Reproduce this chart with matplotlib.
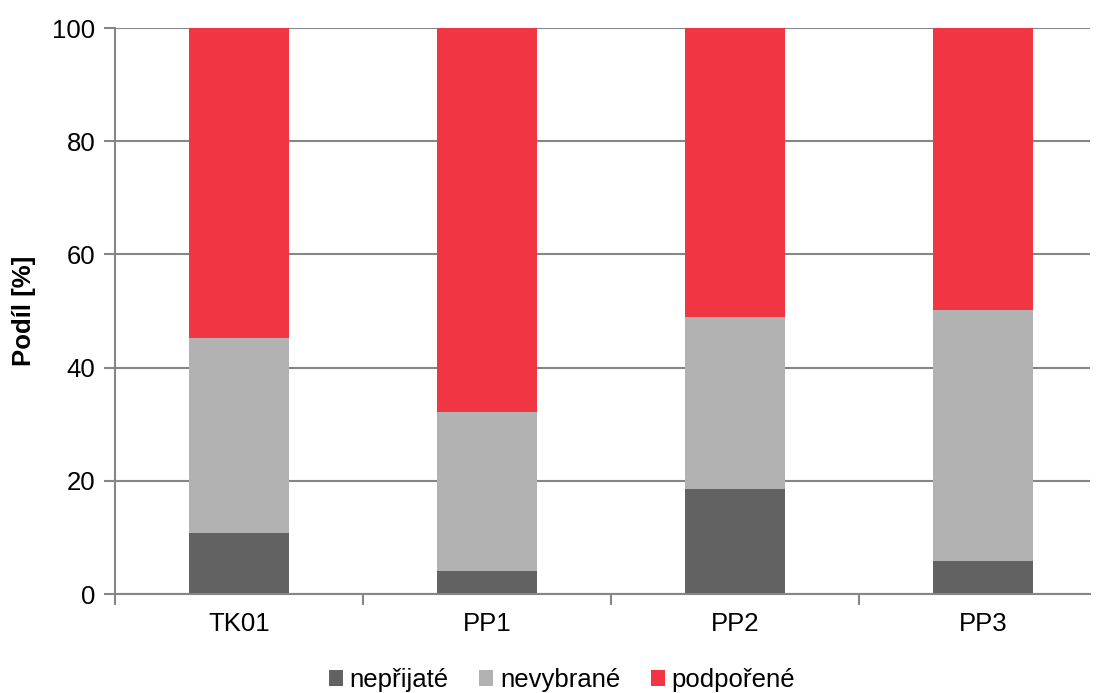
import matplotlib
matplotlib.use("Agg")
import matplotlib.pyplot as plt
import numpy as np

plt.rcParams['font.family'] = ['Liberation Sans', 'DejaVu Sans']

categories = ["TK01", "PP1", "PP2", "PP3"]
neprijate = [10.8, 4.0, 18.5, 5.8]
nevybrane = [34.4, 28.1, 30.4, 44.3]
podporene = [54.8, 67.9, 51.1, 49.9]
series_names = ["nepřijaté", "nevybrané", "podpořené"]
colors = ["#626262", "#b2b2b2", "#f03642"]

fig = plt.figure(figsize=(10.96, 6.93), dpi=100)
ax = fig.add_axes([115/1096, 1 - 594/693, (1090 - 115)/1096, (594 - 28)/693])

x = np.arange(len(categories))
bottom = np.zeros(len(categories))
for vals, name, c in zip([neprijate, nevybrane, podporene], series_names, colors):
    ax.bar(x, vals, width=0.4, bottom=bottom, color=c, label=name, zorder=3)
    bottom += np.array(vals)

ax.set_yticks(range(0, 101, 20))
ax.yaxis.grid(True, color="#868686", linewidth=1.5, zorder=0)
ax.set_axisbelow(True)
for s in ["top", "right"]:
    ax.spines[s].set_visible(False)
for s in ["left", "bottom"]:
    ax.spines[s].set_color("#868686")
    ax.spines[s].set_linewidth(1.5)
ax.spines["bottom"].set_zorder(4)

ax.set_xticks(x)
ax.set_xticklabels(categories, fontsize=18.5)
ax.tick_params(axis="x", length=0, pad=13)
ax.set_xticks(np.arange(len(categories) + 1) - 0.5, minor=True)
ax.tick_params(axis="x", which="minor", length=8, width=1.5, color="#868686")
ax.tick_params(axis="y", length=8, width=1.5, color="#868686", labelsize=18.5, pad=6)
ax.set_ylabel("Podíl [%]", fontsize=18.5, fontweight="bold", labelpad=12)

ax.set_ylim(0, 100)
ax.set_xlim(-0.5, -0.5 + (1090 - 115) / 248)

leg = fig.legend(loc="center", bbox_to_anchor=(562/1096, 1 - 680/693), ncol=3, frameon=False,
                 fontsize=18.5, handlelength=0.55, handleheight=0.55, handletextpad=0.25,
                 columnspacing=1.2)

fig.savefig("out.png", dpi=100)
